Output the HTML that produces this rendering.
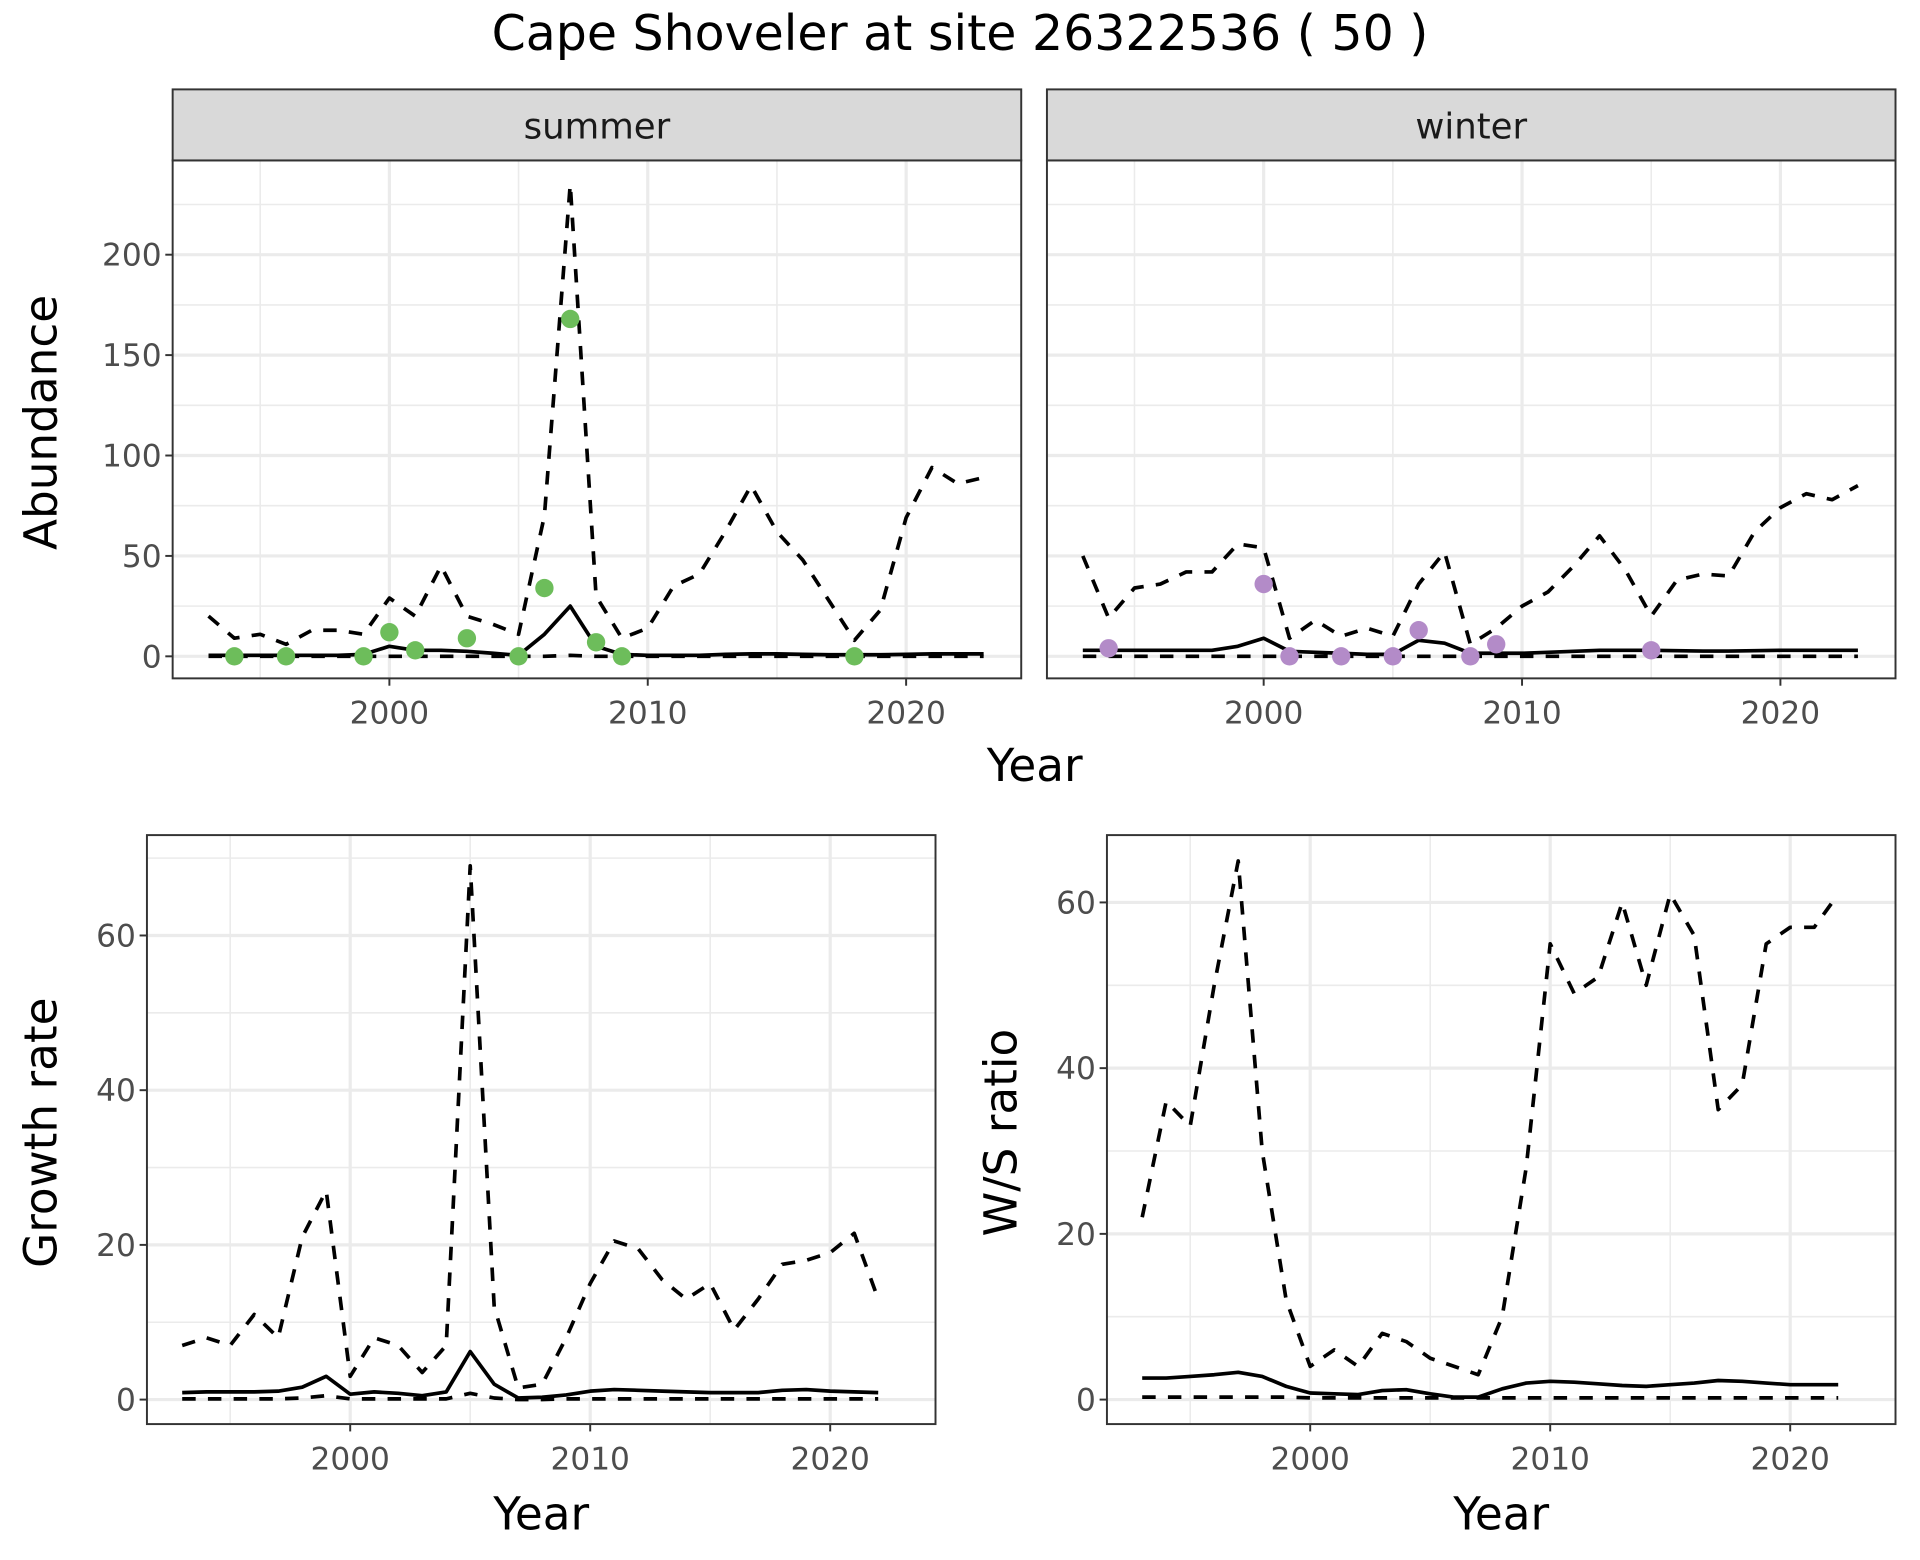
<!DOCTYPE html>
<html><head><meta charset="utf-8"><style>
html,body{margin:0;padding:0;background:#fff;}
svg{display:block;font-family:"DejaVu Sans","Liberation Sans",sans-serif;}
</style></head><body>
<svg id="chart" width="1920" height="1560" viewBox="0 0 1568 1274" xmlns="http://www.w3.org/2000/svg">
<rect width="1568" height="1274" fill="#fff"/>
<text x="784" y="41" text-anchor="middle" font-size="40" fill="#000">Cape Shoveler at site 26322536 ( 50 )</text>
</svg>
<script>
// ---- data ----
const yearsAbund = [1993,1994,1995,1996,1997,1998,1999,2000,2001,2002,2003,2004,2005,2006,2007,2008,2009,2010,2011,2012,2013,2014,2015,2016,2017,2018,2019,2020,2021,2022,2023];
const summerUpper = [20,9,11,6,13,13,11,29,20,45,20,16,11,70,235,30,9,14,35,41,62,85,62,48,28,8,23,69,94,86,89];
const summerMean = [0.5,0.5,0.5,0.5,0.5,0.5,1,5,3,3,2.5,1.5,0.5,11,25,5,1,0.5,0.5,0.5,1,1.2,1.2,1,0.8,0.8,0.8,1,1.2,1.2,1.2];
const summerLower = [0,0,0,0,0,0,0,0,0,0,0,0,0,0,0.5,0,0,0,0,0,0,0,0,0,0,0,0,0,0,0,0];
const summerObsYears = [1994,1996,1999,2000,2001,2003,2005,2006,2007,2008,2009,2018];
const summerObs = [0,0,0,12,3,9,0,34,168,7,0,0];
const winterUpper = [50,19,34,36,42,42,56,54,9,18,10,14,10,36,52,6,14,25,32,45,60,43,20,38,41,40,62,74,81,78,85];
const winterMean = [3,3,3,3,3,3,5,9,2.5,2,1.5,1,1,8,6.5,1.5,1.5,1.5,2,2.5,3,3,3,2.8,2.6,2.6,2.8,3,3,3,3];
const winterLower = [0,0,0,0,0,0,0,0,0,0,0,0,0,0,0,0,0,0,0,0,0,0,0,0,0,0,0,0,0,0,0];
const winterObsYears = [1994,2000,2001,2003,2005,2006,2008,2009,2015];
const winterObs = [4,36,0,0,0,13,0,6,3];
const yearsRate = [1993,1994,1995,1996,1997,1998,1999,2000,2001,2002,2003,2004,2005,2006,2007,2008,2009,2010,2011,2012,2013,2014,2015,2016,2017,2018,2019,2020,2021,2022];
const growthUpper = [7,8,7,11,8,21,27,3,8,7,3.5,7,69,12,1.5,2,8,15,20.5,19.5,15.5,13,15,9,13,17.5,18,19,21.5,13];
const growthMean = [0.9,1,1,1,1.1,1.6,3,0.7,1,0.8,0.5,1,6.2,2,0.2,0.3,0.6,1.1,1.3,1.2,1.1,1,0.9,0.9,0.9,1.2,1.3,1.1,1,0.9];
const growthLower = [0.1,0.1,0.1,0.1,0.1,0.2,0.5,0.1,0.1,0.1,0.1,0.1,0.8,0.2,0,0,0.1,0.1,0.1,0.1,0.1,0.1,0.1,0.1,0.1,0.1,0.1,0.1,0.1,0.1];
const ratioUpper = [22,36,33,50,65,30,12,4,6,4,8,7,5,4,3,10,28,55,49,51,60,50,61,56,35,38,55,57,57,61];
const ratioMean = [2.6,2.6,2.8,3,3.3,2.8,1.6,0.8,0.7,0.6,1.1,1.2,0.7,0.3,0.3,1.3,2,2.2,2.1,1.9,1.7,1.6,1.8,2,2.3,2.2,2,1.8,1.8,1.8];
const ratioLower = [0.3,0.3,0.3,0.3,0.3,0.3,0.3,0.2,0.2,0.2,0.2,0.2,0.2,0.2,0.2,0.2,0.2,0.2,0.2,0.2,0.2,0.2,0.2,0.2,0.2,0.2,0.2,0.2,0.2,0.2];
const abundTicks = [0,50,100,150,200];
const growthTicks = [0,20,40,60];
const ratioTicks = [0,20,40,60];
const yearTicks = [2000,2010,2020];

const NS='http://www.w3.org/2000/svg';
const svg=document.getElementById('chart');
function el(tag,attrs,parent){const e=document.createElementNS(NS,tag);for(const k in attrs)e.setAttribute(k,attrs[k]);(parent||svg).appendChild(e);return e;}

function panel(p){
  const g=el('g',{});
  
  
  const xs=v=>p.x0+(v-2000)*p.xk;
  const ys=v=>p.y0-v*p.yk;
  el('rect',{x:p.L,y:p.T,width:p.R-p.L,height:p.B-p.T,fill:'#fff'},g);
  for(let v=p.ymin;v<=p.ymax;v+=p.ystep/2){const y=ys(v);if(y<p.T||y>p.B)continue;
    const major=Math.abs(v/p.ystep-Math.round(v/p.ystep))<1e-6;
    const l=el('line',{x1:p.L,x2:p.R,y1:y,y2:y,stroke:'#ebebeb','stroke-width':major?2.6:1.3},g);
    
    }
  for(let v=1990;v<=2030;v+=5){const x=xs(v);if(x<p.L||x>p.R)continue;
    const major=v%10===0;
    const l=el('line',{x1:x,x2:x,y1:p.T,y2:p.B,stroke:'#ebebeb','stroke-width':major?2.6:1.3},g);
    
    }
  const series=[[p.lower,'11,10'],[p.upper,'11,10'],[p.mean,null]];
  series.forEach((s,i)=>{
    const pts=p.years.map((yr,j)=>xs(yr).toFixed(1)+','+ys(s[0][j]).toFixed(1)).join(' ');
    const a={points:pts,fill:'none',stroke:'#000','stroke-width':3,'stroke-linejoin':'round'};
    if(s[1])a['stroke-dasharray']=s[1];
    const pl=el('polyline',a,g);
    
    
  });
  if(p.obs){p.obsYears.forEach((yr,j)=>{
    const c=el('circle',{cx:xs(yr),cy:ys(p.obs[j]),r:7.5,fill:p.color},g);
    
    });}
  el('rect',{x:p.L,y:p.T,width:p.R-p.L,height:p.B-p.T,fill:'none',stroke:'#333','stroke-width':1.6},g);
  if(p.strip){
    const sr=el('rect',{x:p.L,y:p.T-58,width:p.R-p.L,height:58,fill:'#d9d9d9',stroke:'#333','stroke-width':1.6},g);
    
    
    const st=el('text',{x:(p.L+p.R)/2,y:p.T-18,'text-anchor':'middle','font-size':29,fill:'#1a1a1a'},g);
    st.textContent=p.strip;
    
    
  }
  if(p.yTicks){p.yTicks.forEach(v=>{const y=ys(v);
    el('line',{x1:p.L-6,x2:p.L,y1:y,y2:y,stroke:'#333','stroke-width':1.6},g);
    const t=el('text',{x:p.L-9,y:y+9,'text-anchor':'end','font-size':25.5,fill:'#4d4d4d'},g);
    t.textContent=v;
    
    });}
  yearTicks.forEach(v=>{const x=xs(v);
    el('line',{x1:x,x2:x,y1:p.B,y2:p.B+6,stroke:'#333','stroke-width':1.6},g);
    const t=el('text',{x:x,y:p.B+37,'text-anchor':'middle','font-size':25.5,fill:'#4d4d4d'},g);
    t.textContent=v;
    
    });
}
panel({name:'summer-panel',L:141,R:834,T:131,B:554,x0:318,xk:21.1,y0:536,yk:1.64,ymin:0,ymax:250,ystep:50,years:yearsAbund,upper:summerUpper,mean:summerMean,lower:summerLower,obsYears:summerObsYears,obs:summerObs,color:'#6dbd5b',strip:'summer',yTicks:abundTicks});
panel({name:'winter-panel',L:855,R:1548,T:131,B:554,x0:1032,xk:21.1,y0:536,yk:1.64,ymin:0,ymax:250,ystep:50,years:yearsAbund,upper:winterUpper,mean:winterMean,lower:winterLower,obsYears:winterObsYears,obs:winterObs,color:'#b38bc8',strip:'winter',yTicks:null});
panel({name:'growth-rate-panel',L:120,R:764,T:682,B:1163,x0:286,xk:19.6,y0:1143,yk:6.317,ymin:0,ymax:80,ystep:20,years:yearsRate,upper:growthUpper,mean:growthMean,lower:growthLower,yTicks:growthTicks});
panel({name:'ws-ratio-panel',L:904,R:1548,T:682,B:1163,x0:1070,xk:19.6,y0:1143,yk:6.767,ymin:0,ymax:80,ystep:20,years:yearsRate,upper:ratioUpper,mean:ratioMean,lower:ratioLower,yTicks:ratioTicks});

function label(txt,x,y,rot,name){
  const t=el('text',{x:x,y:y,'text-anchor':'middle','font-size':37,fill:'#000'});
  if(rot)t.setAttribute('transform','rotate(-90 '+x+' '+y+')');
  t.textContent=txt;
  
  
}
label('Year',845,638,false,'x-axis-title-top');
label('Abundance',46,345,true,'y-axis-title-abundance');
label('Year',442,1249,false,'x-axis-title-growth');
label('Growth rate',46,925,true,'y-axis-title-growth');
label('Year',1226,1249,false,'x-axis-title-ratio');
label('W/S ratio',830,925,true,'y-axis-title-ratio');
</script>
</body></html>
